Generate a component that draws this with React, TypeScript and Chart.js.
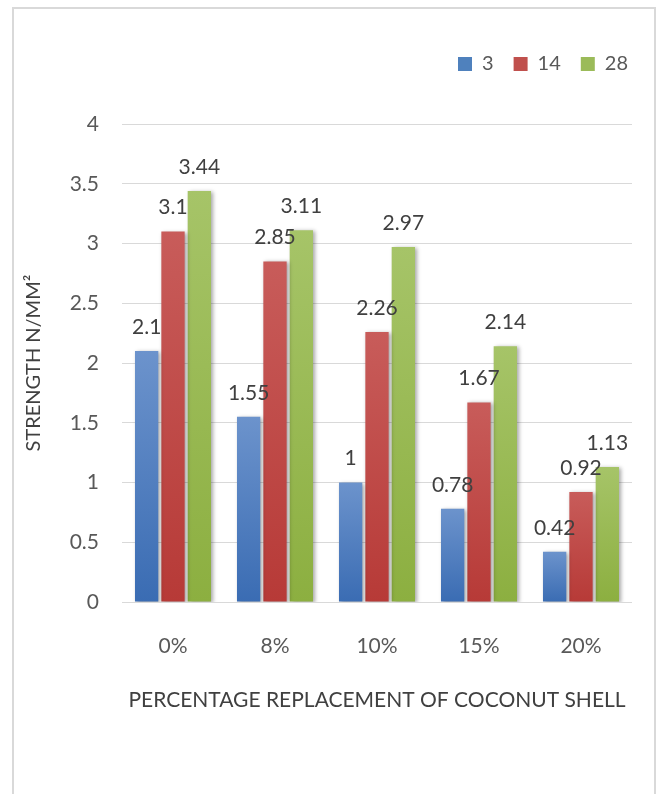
import React, { useEffect, useRef } from "react";
import { Chart, registerables } from "chart.js";

Chart.register(...registerables);

const categories = ["0%", "8%", "10%", "15%", "20%"];
const seriesNames = ["3", "14", "28"];
const values3 = [2.1, 1.55, 1, 0.78, 0.42];
const values14 = [3.1, 2.85, 2.26, 1.67, 0.92];
const values28 = [3.44, 3.11, 2.97, 2.14, 1.13];
const yTicks = [0, 0.5, 1, 1.5, 2, 2.5, 3, 3.5, 4];

const FONT = "Lato, 'Liberation Sans', sans-serif";
const TEXT = "#595959";

const gradients = [
  ["#6c93cc", "#3a6cb3"],
  ["#c85c5a", "#b73a37"],
  ["#a6c468", "#8caf40"],
];
const solid = ["#4f81bd", "#c0504d", "#9bbb59"];

function barFill(idx: number) {
  return (ctx: any) => {
    const chart = ctx.chart;
    if (ctx.type !== "data" || !chart.chartArea || !chart.scales.y) return solid[idx];
    const y = chart.scales.y;
    const top = y.getPixelForValue(ctx.raw);
    const bottom = y.getPixelForValue(0);
    if (!isFinite(top) || !isFinite(bottom) || top === bottom) return solid[idx];
    const g = chart.ctx.createLinearGradient(0, top, 0, bottom);
    g.addColorStop(0, gradients[idx][0]);
    g.addColorStop(1, gradients[idx][1]);
    return g;
  };
}

const shadowPlugin = {
  id: "barShadow",
  beforeDatasetsDraw(chart: any) {
    const c = chart.ctx;
    c.save();
    c.shadowColor = "rgba(0,0,0,0.35)";
    c.shadowBlur = 4;
    c.shadowOffsetX = 2;
    c.shadowOffsetY = 1;
  },
  afterDatasetsDraw(chart: any) {
    chart.ctx.restore();
  },
};

const labelPlugin = {
  id: "valueLabels",
  afterDatasetsDraw(chart: any) {
    const c = chart.ctx;
    c.save();
    c.font = `21px ${FONT}`;
    c.fillStyle = "#404040";
    c.textAlign = "center";
    c.textBaseline = "middle";
    chart.data.datasets.forEach((ds: any, di: number) => {
      const meta = chart.getDatasetMeta(di);
      meta.data.forEach((bar: any, i: number) => {
        c.fillText(String(ds.data[i]), bar.x, bar.y - 24);
      });
    });
    c.restore();
  },
};

const legendTweak = {
  id: "legendTweak",
  beforeLayout(chart: any) {
    const lg = chart.legend;
    if (lg && !lg.__patched) {
      const orig = lg.fit.bind(lg);
      lg.fit = function () {
        orig();
        this.height = 90;
      };
      lg.__patched = true;
    }
  },
  afterLayout(chart: any) {
    if (chart.legend) {
      chart.legend.left += 16;
      chart.legend.right += 16;
    }
  },
};

export default function App() {
  const ref = useRef<HTMLCanvasElement>(null);
  useEffect(() => {
    if (!ref.current) return;
    const chart = new Chart(ref.current, {
      type: "bar",
      data: {
        labels: categories,
        datasets: [values3, values14, values28].map((d, i) => ({
          label: seriesNames[i],
          data: d,
          backgroundColor: barFill(i),
          borderWidth: 0,
          categoryPercentage: 0.775,
          barPercentage: 0.885,
        })),
      },
      options: {
        responsive: false,
        animation: false,
        devicePixelRatio: 1,
        layout: { padding: { left: 20, right: 29, top: 34, bottom: 81 } },
        plugins: {
          tooltip: { enabled: false },
          legend: {
            position: "top",
            align: "end",
            labels: {
              boxWidth: 14,
              boxHeight: 14,
              padding: 20,
              color: TEXT,
              font: { family: FONT, size: 20 },
              generateLabels: (ch: any) =>
                ch.data.datasets.map((ds: any, i: number) => ({
                  text: ds.label,
                  fillStyle: solid[i],
                  strokeStyle: solid[i],
                  lineWidth: 0,
                  hidden: false,
                  datasetIndex: i,
                  fontColor: TEXT,
                })),
            },
          },
        },
        scales: {
          x: {
            grid: { display: false },
            border: { display: false },
            ticks: { color: TEXT, font: { family: FONT, size: 21 }, padding: 24 },
            title: {
              display: true,
              text: "PERCENTAGE REPLACEMENT OF COCONUT SHELL",
              color: "#404040",
              font: { family: FONT, size: 21 },
              padding: { top: 0, bottom: 0 },
            },
            afterFit: (s: any) => {
              s.height = 111;
            },
          },
          y: {
            min: 0,
            max: 4,
            afterBuildTicks: (s: any) => {
              s.ticks = yTicks.map((v) => ({ value: v }));
            },
            grid: { color: "#d9d9d9", drawTicks: false, lineWidth: 1 },
            border: { display: false },
            ticks: {
              color: TEXT,
              font: { family: FONT, size: 21 },
              padding: 23,
              callback: (v: any) => String(v),
            },
            title: {
              display: true,
              text: "STRENGTH N/MM²",
              color: "#404040",
              font: { family: FONT, size: 20 },
              padding: { top: 2, bottom: 0 },
            },
            afterFit: (s: any) => {
              s.width = 102;
            },
          },
        },
      },
      plugins: [shadowPlugin, labelPlugin, legendTweak],
    });
    return () => chart.destroy();
  }, []);

  return (
    <div style={{ position: "absolute", left: 0, top: 0, width: 661, height: 794, background: "#fff", overflow: "hidden" }}>
      <div
        style={{
          position: "absolute",
          left: 12,
          top: 7,
          width: 644,
          height: 820,
          border: "2px solid #d9d9d9",
          boxSizing: "border-box",
        }}
      />
      <canvas ref={ref} width={661} height={794} style={{ position: "absolute", left: 0, top: 0, width: 661, height: 794 }} />
    </div>
  );
}
